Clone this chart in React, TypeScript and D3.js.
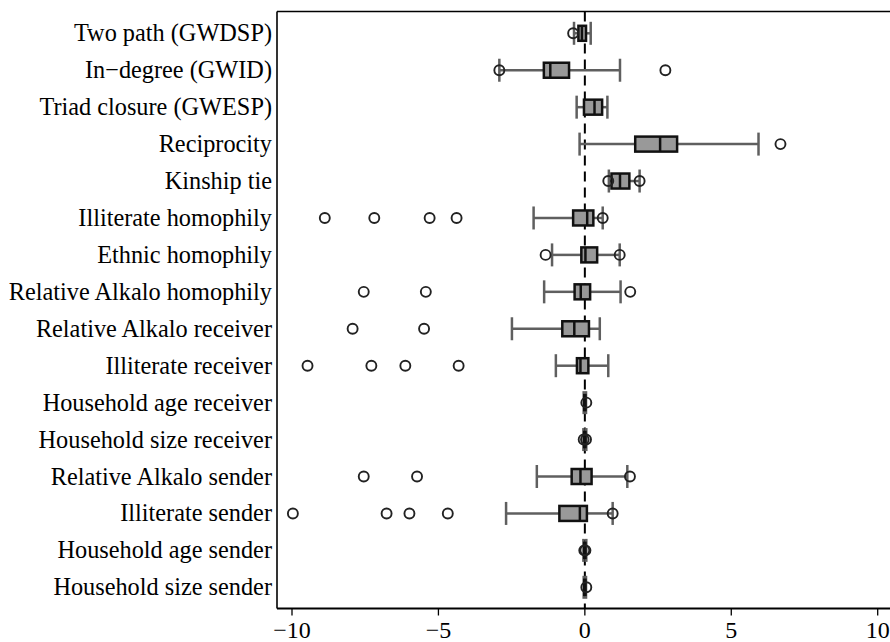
import React from "react";
import * as d3 from "d3";

const categories = [
  "Two path (GWDSP)",
  "In\u2212degree (GWID)",
  "Triad closure (GWESP)",
  "Reciprocity",
  "Kinship tie",
  "Illiterate homophily",
  "Ethnic homophily",
  "Relative Alkalo homophily",
  "Relative Alkalo receiver",
  "Illiterate receiver",
  "Household age receiver",
  "Household size receiver",
  "Relative Alkalo sender",
  "Illiterate sender",
  "Household age sender",
  "Household size sender",
];

const whiskerLow = [-0.37, -2.92, -0.28, -0.18, 0.82, -1.75, -1.12, -1.39, -2.49, -0.99, -0.04, -0.05, -1.64, -2.69, -0.05, -0.04];
const q1 = [-0.22, -1.4, -0.03, 1.72, 0.91, -0.4, -0.12, -0.35, -0.77, -0.27, -0.02, -0.02, -0.45, -0.87, -0.02, -0.02];
const median = [-0.1, -1.18, 0.33, 2.57, 1.2, 0.08, 0.02, -0.14, -0.36, -0.15, 0.0, 0.0, -0.15, -0.17, 0.0, 0.0];
const q3 = [0.04, -0.54, 0.59, 3.15, 1.52, 0.29, 0.42, 0.18, 0.14, 0.12, 0.02, 0.02, 0.23, 0.07, 0.02, 0.02];
const whiskerHigh = [0.2, 1.2, 0.77, 5.93, 1.87, 0.61, 1.19, 1.22, 0.51, 0.8, 0.04, 0.05, 1.45, 0.95, 0.05, 0.04];
const outliers: number[][] = [
  [-0.4],
  [-2.92, 2.75],
  [],
  [6.68],
  [0.8, 1.87],
  [-8.88, -7.19, -5.3, -4.38, 0.61],
  [-1.34, 1.19],
  [-7.55, -5.43, 1.55],
  [-7.93, -5.49],
  [-9.47, -7.29, -6.13, -4.31],
  [0.05],
  [-0.04, 0.04],
  [-7.55, -5.73, 1.54],
  [-9.97, -6.77, -5.99, -4.68, 0.95],
  [-0.02, 0.02],
  [0.05],
];
const xTicks = [-10, -5, 0, 5, 10];

const W = 890;
const H = 642;
const frameLeft = 277;
const frameTop = 11.5;
const frameBottom = 608.5;

export default function App() {
  const x = d3.scaleLinear().domain([-10, 10]).range([292, 877.7]);
  const y = d3.scalePoint<string>().domain(categories).range([33.3, 587.3]);
  const boxH = 15;
  const capH = 23;
  const font = "'Liberation Serif', 'Times New Roman', serif";
  const fmt = (v: number) => (v < 0 ? "\u2212" + Math.abs(v) : String(v));

  return (
    <svg
      width={W}
      height={H}
      style={{ position: "absolute", left: 0, top: 0, background: "#fff" }}
    >
      <rect x={0} y={0} width={W} height={H} fill="#fff" />
      <line
        x1={x(0)}
        x2={x(0)}
        y1={frameTop}
        y2={frameBottom}
        stroke="#000"
        strokeWidth={2}
        strokeDasharray="10,6"
      />
      {categories.map((c, i) => {
        const cy = y(c) as number;
        return (
          <g key={c}>
            <line x1={x(whiskerLow[i])} x2={x(q1[i])} y1={cy} y2={cy} stroke="#5f5f5f" strokeWidth={2.5} />
            <line x1={x(q3[i])} x2={x(whiskerHigh[i])} y1={cy} y2={cy} stroke="#5f5f5f" strokeWidth={2.5} />
            <line x1={x(whiskerLow[i])} x2={x(whiskerLow[i])} y1={cy - capH / 2} y2={cy + capH / 2} stroke="#5f5f5f" strokeWidth={2.5} />
            <line x1={x(whiskerHigh[i])} x2={x(whiskerHigh[i])} y1={cy - capH / 2} y2={cy + capH / 2} stroke="#5f5f5f" strokeWidth={2.5} />
            <rect
              x={x(q1[i])}
              y={cy - boxH / 2}
              width={Math.max(0.5, x(q3[i]) - x(q1[i]))}
              height={boxH}
              fill="#999"
              stroke="#111"
              strokeWidth={2.5}
            />
            <line x1={x(median[i])} x2={x(median[i])} y1={cy - boxH / 2} y2={cy + boxH / 2} stroke="#111" strokeWidth={2.5} />
            {outliers[i].map((o, j) => (
              <circle key={j} cx={x(o)} cy={cy} r={5} fill="none" stroke="#222" strokeWidth={1.9} />
            ))}
          </g>
        );
      })}
      <line x1={frameLeft} x2={frameLeft} y1={frameTop} y2={frameBottom} stroke="#000" strokeWidth={1.6} />
      <line x1={frameLeft} x2={W} y1={frameTop} y2={frameTop} stroke="#000" strokeWidth={1.6} />
      <line x1={frameLeft} x2={W} y1={frameBottom} y2={frameBottom} stroke="#000" strokeWidth={2} />
      {xTicks.map((t) => (
        <g key={t}>
          <line x1={x(t)} x2={x(t)} y1={frameBottom} y2={frameBottom + 7} stroke="#000" strokeWidth={1.3} />
          <text x={x(t)} y={638} textAnchor="middle" fontFamily={font} fontSize={24} fill="#000">
            {fmt(t)}
          </text>
        </g>
      ))}
      {categories.map((c) => (
        <text
          key={c}
          x={272}
          y={(y(c) as number) + 8}
          textAnchor="end"
          fontFamily={font}
          fontSize={24.3}
          fill="#000"
        >
          {c}
        </text>
      ))}
    </svg>
  );
}
